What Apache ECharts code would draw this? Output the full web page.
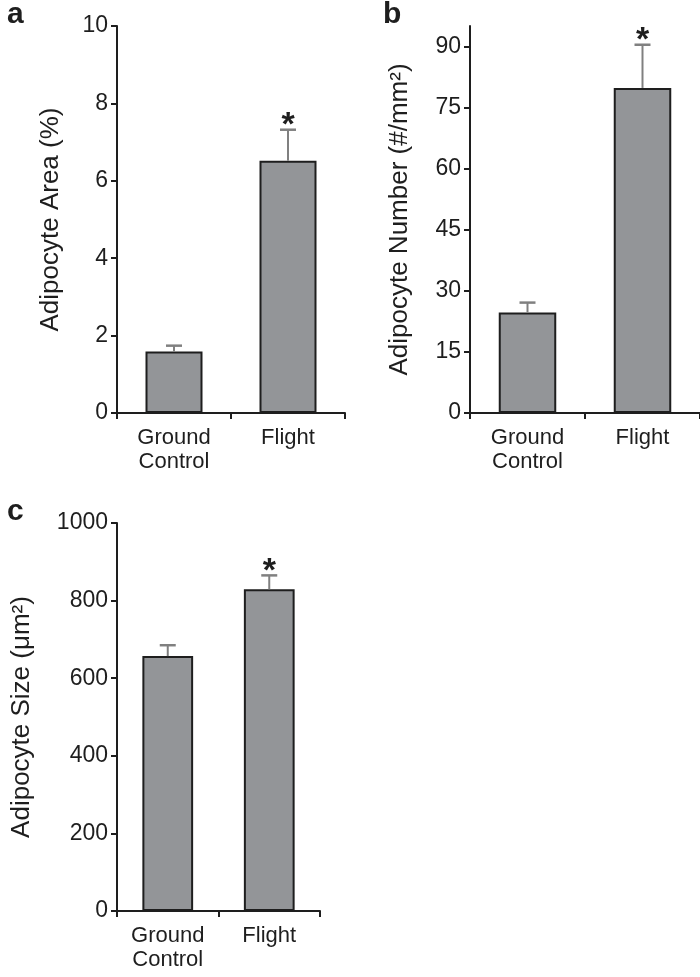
<!DOCTYPE html>
<html>
<head>
<meta charset="utf-8">
<script src="https://cdn.jsdelivr.net/npm/echarts@6/dist/echarts.min.js"></script>
<style>
html,body{margin:0;padding:0;background:#fff;}
#chart{width:700px;height:977px;}
</style>
</head>
<body>
<div id="chart"></div>
<script>
// ---- data ----
const categories = ['Ground\nControl', 'Flight'];
const sig = ['', '*'];

const areaMean = [1.59, 6.52];
const areaErr = [0.15, 0.80];
const areaTicks = [0, 2, 4, 6, 8, 10];

const numberMean = [24.7, 79.8];
const numberErr = [2.4, 10.6];
const numberTicks = [0, 15, 30, 45, 60, 75, 90];

const sizeMean = [657, 829];
const sizeErr = [28, 36];
const sizeTicks = [0, 200, 400, 600, 800, 1000];

const titles = ['Adipocyte Area (%)', 'Adipocyte Number (#/mm²)', 'Adipocyte Size (μm²)'];
const panelLetters = ['a', 'b', 'c'];

// ---- style ----
const FONT = 'Liberation Sans, Arial, Helvetica, sans-serif';
const INK = '#1e1e1e';
const BAR = '#939598';
const ERR = '#808080';

const panels = [
  {mean: areaMean, err: areaErr, ticks: areaTicks, max: 10, grid: {left: 117, top: 26, width: 228, height: 387}, nameGap: 53},
  {mean: numberMean, err: numberErr, ticks: numberTicks, max: 95, grid: {left: 470, top: 26, width: 230, height: 387}, nameGap: 57},
  {mean: sizeMean, err: sizeErr, ticks: sizeTicks, max: 1000, grid: {left: 117, top: 523, width: 203, height: 388}, nameGap: 82}
];

const grids = [], xAxes = [], yAxes = [], series = [];
panels.forEach((p, i) => {
  grids.push(Object.assign({containLabel: false}, p.grid));
  xAxes.push({
    type: 'category', gridIndex: i, data: categories, boundaryGap: true,
    axisLine: {show: true, lineStyle: {color: INK, width: 2}},
    axisTick: {show: true, length: 6, lineStyle: {color: INK, width: 2}},
    axisLabel: {color: INK, fontSize: 22, fontFamily: FONT, lineHeight: 24, margin: 13, interval: 0}
  });
  yAxes.push({
    type: 'value', gridIndex: i, min: 0, max: p.max,
    name: titles[i], nameLocation: 'middle', nameGap: p.nameGap, nameRotate: 90,
    nameTextStyle: {color: INK, fontSize: 26, fontFamily: FONT},
    axisLine: {show: true, lineStyle: {color: INK, width: 2}},
    axisTick: {show: true, length: 6, customValues: p.ticks, lineStyle: {color: INK, width: 2}},
    axisLabel: {color: INK, fontSize: 23, fontFamily: FONT, margin: 9, customValues: p.ticks,
      formatter: function (v) { return String(v); }},
    splitLine: {show: false}
  });
  series.push({
    type: 'bar', xAxisIndex: i, yAxisIndex: i, data: p.mean, barWidth: '50%',
    itemStyle: {color: BAR, borderColor: INK, borderWidth: 2},
    silent: true, z: 2
  });
  series.push({
    type: 'custom', xAxisIndex: i, yAxisIndex: i, z: 3, silent: true,
    data: p.mean.map((m, k) => [k, m, p.err[k]]),
    encode: {x: 0, y: 1},
    renderItem: function (params, api) {
      const k = api.value(0), m = api.value(1), e = api.value(2);
      const base = api.coord([k, m]);
      const top = api.coord([k, m + e]);
      const cap = 8;
      const children = [
        {type: 'line', shape: {x1: base[0], y1: base[1], x2: top[0], y2: top[1]}, style: {stroke: ERR, lineWidth: 2}},
        {type: 'line', shape: {x1: top[0] - cap, y1: top[1], x2: top[0] + cap, y2: top[1]}, style: {stroke: ERR, lineWidth: 2.5}}
      ];
      const s = sig[params.dataIndex];
      if (s) {
        children.push({type: 'text', style: {text: s, x: top[0], y: top[1] - 4, textAlign: 'center', textVerticalAlign: 'middle', font: 'bold 34px ' + FONT, fill: INK}});
      }
      return {type: 'group', children: children};
    }
  });
});

const graphic = [
  {type: 'text', left: 7, top: 0, style: {text: panelLetters[0], font: 'bold 30px ' + FONT, fill: INK}},
  {type: 'text', left: 383, top: 0, style: {text: panelLetters[1], font: 'bold 30px ' + FONT, fill: INK}},
  {type: 'text', left: 7, top: 497, style: {text: panelLetters[2], font: 'bold 30px ' + FONT, fill: INK}}
];

const chart = echarts.init(document.getElementById('chart'), null, {renderer: 'canvas'});
chart.setOption({
  backgroundColor: '#fff',
  animation: false,
  grid: grids, xAxis: xAxes, yAxis: yAxes, series: series, graphic: graphic
});
</script>
</body>
</html>
